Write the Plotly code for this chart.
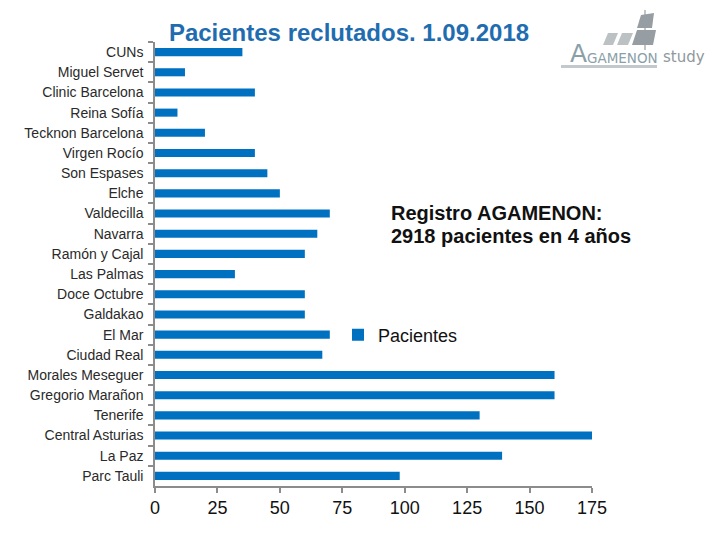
import plotly.graph_objects as go

categories = ["CUNs", "Miguel Servet", "Clinic Barcelona", "Reina Sofía", "Tecknon Barcelona",
              "Virgen Rocío", "Son Espases", "Elche", "Valdecilla", "Navarra", "Ramón y Cajal",
              "Las Palmas", "Doce Octubre", "Galdakao", "El Mar", "Ciudad Real",
              "Morales Meseguer", "Gregorio Marañon", "Tenerife", "Central Asturias",
              "La Paz", "Parc Tauli"]
pacientes = [35, 12, 40, 9, 20, 40, 45, 50, 70, 65, 60, 32, 60, 60, 70, 67,
             160, 160, 130, 175, 139, 98]
x_ticks = [0, 25, 50, 75, 100, 125, 150, 175]

BLUE = "#0070C0"
AXIS = "#8c8c8c"
OFF = 8  # page body margin

# plot area on screen: x 155..592, y 42..486
L, R, T, B = 155, 592, 42, 486

def px(x):
    return (x - L) / (R - L)

def py(y):
    return 1 - (y - T) / (B - T)

fig = go.Figure()
fig.add_trace(go.Bar(
    y=categories, x=pacientes, orientation="h", name="Pacientes",
    marker=dict(color=BLUE, line=dict(width=0)),
))

fig.update_layout(
    width=720, height=540,
    margin=dict(l=L - OFF, r=720 - (R - OFF), t=T - OFF, b=540 - (B - OFF)),
    paper_bgcolor="white", plot_bgcolor="white",
    bargap=0.6,
    font=dict(family="Liberation Sans, Arial, sans-serif", color="#222222"),
    title=dict(text="<b>Pacientes reclutados. 1.09.2018</b>",
               x=(349 - OFF) / 720, xanchor="center", y=1 - (33 - OFF) / 540, yanchor="middle",
               font=dict(size=24, color="#1F6DB0")),
    showlegend=True,
    legend=dict(x=px(338), xanchor="left", y=py(335), yanchor="middle",
                font=dict(size=18, color="#111111"), bgcolor="rgba(0,0,0,0)",
                itemwidth=30, tracegroupgap=0),
    xaxis=dict(range=[0, 175], tickvals=x_ticks, showgrid=False, zeroline=False,
               showline=True, linecolor=AXIS, linewidth=1.5,
               ticks="outside", ticklen=5, tickcolor=AXIS, tickwidth=1.5,
               tickfont=dict(size=18, color="#111111"),
               fixedrange=True),
    yaxis=dict(categoryorder="array", categoryarray=categories, autorange="reversed",
               showgrid=False, zeroline=False,
               showline=True, linecolor=AXIS, linewidth=1.5,
               ticks="outside", ticklen=5, tickcolor=AXIS, tickwidth=1.5,
               tickson="boundaries",
               tickfont=dict(size=14, color="#2a2a2a"), ticklabelstandoff=7),
)

for txt, yy in [("<b>Registro AGAMENON:</b>", 213), ("<b>2918 pacientes en 4 años</b>", 236)]:
    fig.add_annotation(
        xref="paper", yref="paper", x=px(389), y=py(yy),
        xanchor="left", yanchor="middle", align="left", showarrow=False,
        text=txt, font=dict(size=20, color="#111111"),
    )

# logo (decoration)
def poly(pts, color):
    path = "M " + " L ".join(f"{px(a)} {py(b)}" for a, b in pts) + " Z"
    fig.add_shape(type="path", xref="x domain", yref="y domain", path=path,
                  fillcolor=color, line=dict(width=0))

poly([(603, 45), (613, 45), (618, 33), (608, 33)], "#bcc1c4")
poly([(617, 45), (628, 45), (633, 33), (622, 33)], "#bcc1c4")
poly([(632, 45), (653, 45), (656, 30), (637, 30)], "#969ea3")
poly([(637, 28), (652, 28), (654, 13), (641, 15)], "#969ea3")
fig.add_shape(type="line", xref="x domain", yref="y domain",
              x0=px(645), x1=px(645), y0=py(10), y1=py(50),
              line=dict(color="#969ea3", width=1.2))
fig.add_shape(type="line", xref="x domain", yref="y domain",
              x0=px(561), x1=px(657), y0=py(66.5), y1=py(66.5),
              line=dict(color="#c2c8cb", width=3))
fig.add_annotation(xref="paper", yref="paper", x=px(568), y=py(54), xanchor="left",
                   yanchor="middle", showarrow=False, text="A",
                   font=dict(size=25, color="#8aa0a8", family="DejaVu Sans, sans-serif"))
fig.add_annotation(xref="paper", yref="paper", x=px(585), y=py(58), xanchor="left",
                   yanchor="middle", showarrow=False, text="GAMENON",
                   font=dict(size=13.5, color="#8aa0a8", family="DejaVu Sans, sans-serif"))
fig.add_annotation(xref="paper", yref="paper", x=px(661), y=py(57), xanchor="left",
                   yanchor="middle", showarrow=False, text="study",
                   font=dict(size=15, color="#8f989c", family="DejaVu Sans, sans-serif"))

fig.write_html("out.html")
